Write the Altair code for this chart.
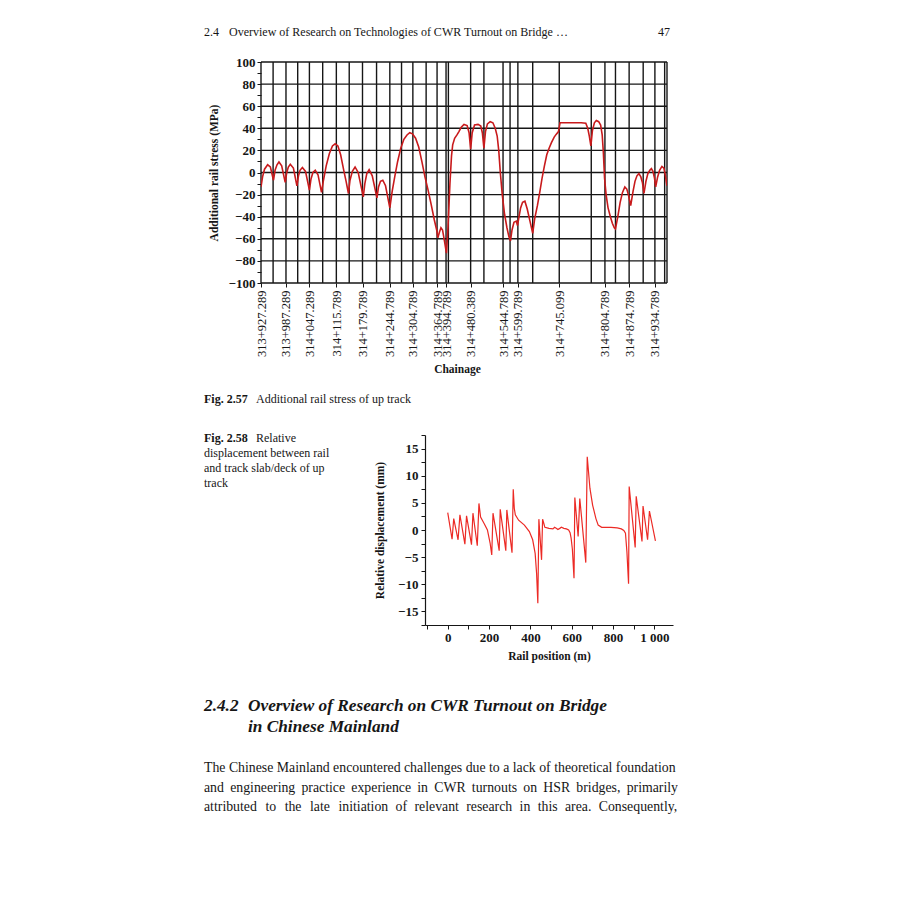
import altair as alt
import pandas as pd

SERIF = "Liberation Serif"
INK = "#161616"

# ---------------- Fig 2.57 data ----------------
stress_pos = [0, 4, 9, 17, 24, 32, 36, 41, 46, 53, 62, 66, 70, 75, 83, 92, 96, 100, 106, 114,
              124, 128, 133, 139, 146, 155, 160, 167, 175, 183, 190, 197, 204, 212, 218, 224,
              228, 234, 241, 249, 262, 266, 271, 277, 285, 297, 301, 306, 312, 319, 330, 336,
              343, 350, 358, 366, 374, 381, 388, 396, 404, 412, 420, 428, 436, 444, 450, 453,
              457, 461, 465, 470, 475, 479, 484, 488, 491, 496, 502, 507, 513, 520, 528, 533,
              537, 541, 547, 556, 563, 567, 571, 575, 580, 587, 594, 600, 605, 609, 613, 618,
              624, 630, 635, 639, 643, 648, 654, 657, 661, 665, 670, 676, 682, 689, 696, 701,
              708, 714, 720, 726, 732, 738, 744, 751, 756, 762, 766, 780, 800, 820, 832, 837,
              841, 845, 849, 854, 859, 865, 870, 874, 877, 880, 884, 889, 895, 900, 905, 908,
              914, 920, 926, 932, 937, 941, 947, 953, 958, 963, 968, 973, 977, 981, 986, 991,
              996, 1000, 1004, 1008, 1011, 1016, 1021, 1027, 1032, 1036, 1040]
stress_val = [-13, -4, 3, 7, 5, -7, 2, 7, 9.5, 6, -9, 0, 5, 7.5, 4, -12, -3, 2, 4.5, 1,
              -16, -6, 0, 2, -2, -18, -7, 6, 17, 24, 26, 24, 16, 2, -8, -19,
              -7, 1, 5, 0, -22, -10, -1, 2.5, -3, -23, -13, -8, -7, -12, -32, -17,
              -3, 10, 22, 30, 34, 36, 35, 31, 23, 10, -4, -16, -29, -43, -52, -59,
              -54, -50, -52, -62, -73, -50, -10, 15, 25, 31, 34, 37, 41, 43.5, 42.5, 36,
              21, 36, 43, 43.5, 42, 36, 22, 37, 44, 46, 45, 40, 33, 20, 0, -20,
              -38, -50, -58, -62, -52, -45, -44, -48, -40, -32, -27, -26, -33, -44, -55, -42,
              -30, -18, -5, 6, 16, 22, 27, 32, 34.5, 37, 45, 45, 45, 45, 44.5, 40,
              33, 24, 38, 45, 47, 46, 43, 34, 18, -5, -20, -32, -40, -46, -50, -51,
              -40, -27, -18, -13, -15, -20, -30, -17, -8, -3, -1, -4, -9, -19, -8, -1,
              2, 3.5, 1, -5, -13, -4, 2, 5.5, 4, -3, -12]
vgrid_pos = [0, 31, 64, 94, 124, 158, 193, 226, 260, 296, 330, 360, 389, 423, 451, 474, 480,
             537, 571, 620, 638, 658, 696, 764, 846, 881, 908, 943, 979, 1009, 1034, 1040]
hgrid_val = [-100, -80, -60, -40, -20, 0, 20, 40, 60, 80, 100]
chain_pos = [0, 64, 124, 193, 260, 330, 389, 451, 474, 537, 620, 658, 764, 881, 943, 1009]
chain_labels = ["313+927.289", "313+987.289", "314+047.289", "314+115.789", "314+179.789",
                "314+244.789", "314+304.789", "314+364.789", "314+394.789", "314+480.389",
                "314+544.789", "314+599.789", "314+745.099", "314+804.789", "314+874.789",
                "314+934.789"]

# ---------------- Fig 2.58 data ----------------
disp_pos = [0, 21, 29, 50, 59, 83, 91, 115, 122, 143, 151, 159, 176, 192, 205, 213, 219, 249,
            254, 281, 286, 311, 317, 322, 327, 343, 371, 395, 411, 423, 430, 436, 441, 454,
            459, 465, 470, 490, 509, 517, 525, 533, 542, 550, 562, 574, 585, 592, 597, 603,
            611, 615, 631, 639, 668, 675, 688, 701, 717, 728, 745, 790, 820, 840, 852, 860,
            867, 875, 878, 907, 912, 940, 945, 967, 976, 1005]
disp_val = [3.2, -1.7, 2.1, -1.8, 2.8, -2.6, 2.6, -2.7, 3.1, -2.9, 4.9, 2.4, 1.2, 0.0, -2.4,
            -4.6, 3.1, -3.8, 3.8, -3.8, 3.7, -4.2, 7.5, 4.0, 2.8, 1.8, 0.9, -0.3, -1.8, -4.3,
            -8.0, -13.5, 2.0, -5.5, 2.0, 1.2, 0.5, 0.3, 0.2, 0.5, 0.3, 0.1, 0.3, 0.5, 0.3, 0.2,
            0.0, -0.5, -1.5, -3.5, -8.9, 6.0, -1.2, 5.8, -6.0, 13.5, 7.7, 4.6, 2.1, 0.9, 0.5,
            0.5, 0.4, 0.2, -0.1, -0.6, -4.0, -9.9, 8.0, -3.2, 6.2, -2.1, 4.4, -1.8, 3.5, -2.0]

header_num = "2.4"
header_text = "Overview of Research on Technologies of CWR Turnout on Bridge \u2026"
page_no = "47"
cap1_bold = "Fig. 2.57"
cap1_text = "Additional rail stress of up track"
cap2_bold = "Fig. 2.58"
cap2_lines = ["Relative", "displacement between rail", "and track slab/deck of up", "track"]
sec_num = "2.4.2"
sec_lines = ["Overview of Research on CWR Turnout on Bridge", "in Chinese Mainland"]
TS = "\u2009"
HS = "\u200a"
para_words = [
    "The Chinese Mainland encountered challenges due to a lack of theoretical foundation".split(" "),
    "and engineering practice experience in CWR turnouts on HSR bridges, primarily".split(" "),
    "attributed to the late initiation of relevant research in this area. Consequently,".split(" "),
]


def justify(words, sep, extra_gaps=0):
    out = words[0]
    for i, w in enumerate(words[1:]):
        out += sep + (HS if i < extra_gaps else "") + w
    return out


para_lines = [
    " ".join(para_words[0]),
    justify(para_words[1], " " + TS),
    justify(para_words[2], " " + TS + HS, 4),
]

one = pd.DataFrame({"k": [0]})


def txt(s, x, y, size=12, weight="normal", style="normal", align="left"):
    return alt.Chart(one).mark_text(
        text=s, font=SERIF, fontSize=size, fontWeight=weight, fontStyle=style,
        align=align, baseline="middle", color=INK
    ).encode(x=alt.value(x), y=alt.value(y))


# ---------------- chart 1 ----------------
W1, H1 = 406, 221
x1 = alt.Scale(domain=[0, 1040], nice=False, zero=False)
y1 = alt.Scale(domain=[-100, 100], nice=False, zero=False)

pos_js = "[" + ",".join(str(p) for p in chain_pos) + "]"
lab_js = "[" + ",".join("'" + s + "'" for s in chain_labels) + "]"

ax1x = alt.Axis(
    values=chain_pos, labelExpr=lab_js + "[indexof(" + pos_js + ", datum.value)]",
    labelAngle=-90, labelAlign="right", labelBaseline="middle", labelOverlap=False,
    labelFlush=False, labelFont=SERIF, labelFontSize=12.5, labelColor=INK,
    labelPadding=3, tickSize=4, tickColor=INK, domain=False, grid=False,
    title="Chainage", titleFont=SERIF, titleFontSize=11.5, titleFontWeight="bold",
    titleColor=INK, titlePadding=7, titleX=196)
ax1y = alt.Axis(
    values=list(range(-100, 101, 10)),
    labelExpr="datum.value % 20 == 0 ? datum.label : ''",
    labelFont=SERIF, labelFontSize=13, labelFontWeight="bold", labelColor=INK,
    labelPadding=2, tickSize=4, tickColor=INK, domain=False, grid=False,
    title="Additional rail stress (MPa)", titleFont=SERIF, titleFontSize=11.5,
    titleFontWeight="bold", titleColor=INK, titlePadding=9)

hgrid = alt.Chart(pd.DataFrame({"stress": hgrid_val})).mark_rule(
    color=INK, strokeWidth=1.4).encode(y=alt.Y("stress:Q", scale=y1, axis=ax1y))
vgrid = alt.Chart(pd.DataFrame({"pos": vgrid_pos})).mark_rule(
    color=INK, strokeWidth=1.4).encode(x=alt.X("pos:Q", scale=x1, axis=ax1x))
line1 = alt.Chart(pd.DataFrame({"pos": stress_pos, "stress": stress_val})).mark_line(
    color="#c81a1c", strokeWidth=1.6, clip=True).encode(
    x=alt.X("pos:Q", scale=x1, axis=ax1x),
    y=alt.Y("stress:Q", scale=y1, axis=ax1y),
)

chart1 = alt.layer(
    hgrid, vgrid, line1,
    txt(header_num, -57, -30, 12),
    txt(header_text, -32, -30, 12),
    txt(page_no, 409, -30, 12, align="right"),
    txt(cap1_bold, -57, 337, 12, weight="bold"),
    txt(cap1_text, -5, 337, 12),
).properties(width=W1, height=H1)

# ---------------- chart 2 ----------------
W2, H2 = 248, 190
x2 = alt.Scale(domain=[-110, 1090], nice=False, zero=False)
y2 = alt.Scale(domain=[-17.5, 17.5], nice=False, zero=False)

line2 = alt.Chart(pd.DataFrame({"pos": disp_pos, "d": disp_val})).mark_line(
    color="#ec2a25", strokeWidth=1.2).encode(
    x=alt.X("pos:Q", scale=x2, axis=alt.Axis(
        values=list(range(-100, 1001, 100)),
        labelExpr="(datum.value % 200 == 0 && datum.value >= 0) ? (datum.value == 1000 ? '1 000' : datum.label) : ''",
        labelFont=SERIF, labelFontSize=13, labelFontWeight="bold", labelColor=INK,
        labelFlush=False, labelOverlap=False, tickSize=4, tickColor=INK,
        domainColor=INK, domainWidth=1.2, grid=False,
        title="Rail position (m)", titleFont=SERIF, titleFontSize=11.5,
        titleFontWeight="bold", titleColor=INK, titlePadding=6)),
    y=alt.Y("d:Q", scale=y2, axis=alt.Axis(
        values=[v * 2.5 for v in range(-7, 8)],
        labelExpr="datum.value % 5 == 0 ? datum.label : ''",
        labelFont=SERIF, labelFontSize=13, labelFontWeight="bold", labelColor=INK,
        tickSize=4, tickColor=INK, domainColor=INK, domainWidth=1.2, grid=False,
        labelPadding=3,
        title="Relative displacement (mm)", titleFont=SERIF, titleFontSize=11.5,
        titleFontWeight="bold", titleColor=INK, titlePadding=12)),
).properties(width=W2, height=H2)

cap_layers = [txt(cap2_bold, -57, 3, 12, weight="bold"),
              txt(cap2_lines[0], -5, 3, 12)]
for i, s in enumerate(cap2_lines[1:]):
    cap_layers.append(txt(s, -57, 18 + 15 * i, 12))
cap2 = alt.layer(*cap_layers).properties(width=113, height=H2)

row2 = alt.hconcat(cap2, line2, spacing=0)

# ---------------- section text ----------------
sec_layers = [txt(sec_num, -57, 17, 17.3, weight="bold", style="italic")]
for i, s in enumerate(sec_lines):
    sec_layers.append(txt(s, -13, 17 + 21 * i, 17.3, weight="bold", style="italic"))
for i, s in enumerate(para_lines):
    sec_layers.append(txt(s, -57, 79 + 19.5 * i, 13.8))
row3 = alt.layer(*sec_layers).properties(width=W1, height=122)

chart = alt.concat(chart1, row2, row3, columns=1, spacing=27).properties(
    padding={"left": 196, "top": 18, "right": 0, "bottom": 0}
).configure(background="white", font=SERIF).configure_view(stroke=None)

chart.save("out.html", embed_options={"renderer": "svg", "actions": False})
